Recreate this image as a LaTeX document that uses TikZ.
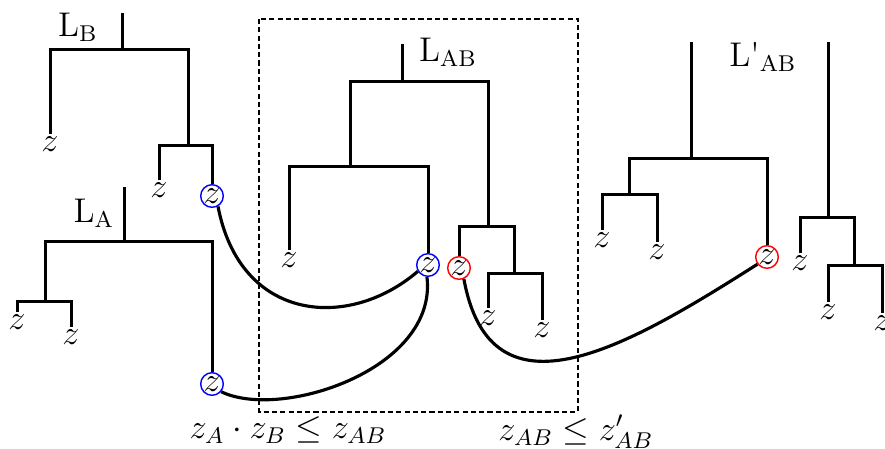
\documentclass[tikz,border=0pt]{standalone}
\begin{document}
\begin{tikzpicture}[x=0.35pt,y=-0.35pt,
  tree/.style={line width=1.05pt},
  leaf/.style={inner sep=0.8pt, anchor=north, font=\fontsize{11.5}{14}\selectfont},
  lab/.style={inner sep=0pt, font=\fontsize{12}{14}\selectfont},
  rel/.style={inner sep=0pt, font=\fontsize{11.5}{14}\selectfont},
  bluez/.style={circle, draw=blue, line width=0.5pt, inner sep=0pt, minimum size=6.6pt, font=\fontsize{11.5}{14}\selectfont},
  redz/.style={bluez, draw=red},
  link/.style={line width=1.1pt},
  dbox/.style={line width=0.6pt, dash pattern=on 1.8pt off 1.1pt}]
\useasboundingbox (0,0) rectangle (885,448);

% L_B tree
\node[lab] (LB) at (78,27) {L$_{\mathrm{B}}$};
\coordinate (Bt) at (122,13);
\coordinate (Bj) at (122,49);
\coordinate (Bi) at (188,145);
\node[leaf] (B1) at (50,134) {$z$};
\node[leaf] (B2) at (159,180) {$z$};
\node[bluez] (cB) at (212,196) {$z$};
\draw[tree] (Bt) -- (Bj);
\draw[tree] (B1.north) |- (Bj) -| (Bi);
\draw[tree] (B2.north) |- (Bi) -| (cB.north);

% L_A tree
\node[lab] (LA) at (94,213) {L$_{\mathrm{A}}$};
\coordinate (At) at (124,187);
\coordinate (Aj) at (124,241);
\coordinate (Ai) at (45,301);
\node[leaf] (A1) at (17,312) {$z$};
\node[leaf] (A2) at (71,327) {$z$};
\node[bluez] (cA) at (212,384) {$z$};
\draw[tree] (At) -- (Aj);
\draw[tree] (Ai) |- (Aj) -| (cA.north);
\draw[tree] (A1.north) |- (Ai) -| (A2.north);

% dashed box
\draw[dbox] (259,19) rectangle (578,412);

% L_AB tree
\node[lab] (LAB) at (448,52) {L$_{\mathrm{AB}}$};
\coordinate (Mt) at (402,44);
\coordinate (Mj) at (402,81);
\coordinate (Ml) at (350,166);
\coordinate (Mr) at (488,226);
\coordinate (Ms) at (514,273);
\node[leaf] (M1) at (289,250) {$z$};
\node[bluez] (cM) at (428,265) {$z$};
\node[redz] (rM) at (459,268) {$z$};
\node[leaf] (M2) at (488,308) {$z$};
\node[leaf] (M3) at (542,320) {$z$};
\draw[tree] (Mt) -- (Mj);
\draw[tree] (Ml) |- (Mj) -| (Mr);
\draw[tree] (M1.north) |- (Ml) -| (cM.north);
\draw[tree] (rM.north) |- (Mr) -| (Ms);
\draw[tree] (M2.north) |- (Ms) -| (M3.north);

% L'_AB trees
\node[lab] (LAB2) at (763,57) {L\textquotesingle$_{\mathrm{AB}}$};
\coordinate (Pt) at (691,42);
\coordinate (Pj) at (691,158);
\coordinate (Pl) at (629,194);
\node[leaf] (P1) at (602,230) {$z$};
\node[leaf] (P2) at (657,242) {$z$};
\node[redz] (rP) at (767,257) {$z$};
\draw[tree] (Pt) -- (Pj);
\draw[tree] (Pl) |- (Pj) -| (rP.north);
\draw[tree] (P1.north) |- (Pl) -| (P2.north);

\coordinate (Qt) at (828,42);
\coordinate (Qj) at (828,217);
\coordinate (Qr) at (854,265);
\node[leaf] (Q1) at (800,253) {$z$};
\node[leaf] (Q2) at (828,302) {$z$};
\node[leaf] (Q3) at (882,313) {$z$};
\draw[tree] (Qt) -- (Qj);
\draw[tree] (Q1.north) |- (Qj) -| (Qr);
\draw[tree] (Q2.north) |- (Qr) -| (Q3.north);

% links
\draw[link] (cB.-60) .. controls +(22,115) and +(-70,60) .. (cM.212);
\draw[link] (cA.-40) .. controls +(60,29) and +(11,92) .. (cM.-95);
\draw[link] (rM.-66) .. controls +(27,148) and +(-129,82) .. (rP.-143);

% relations
\node[rel] (eq1) at (288,430) {$z_A\cdot z_B\le z_{AB}$};
\node[rel] (eq2) at (576,432) {$z_{AB}\le z'_{AB}$};
\end{tikzpicture}
\end{document}
